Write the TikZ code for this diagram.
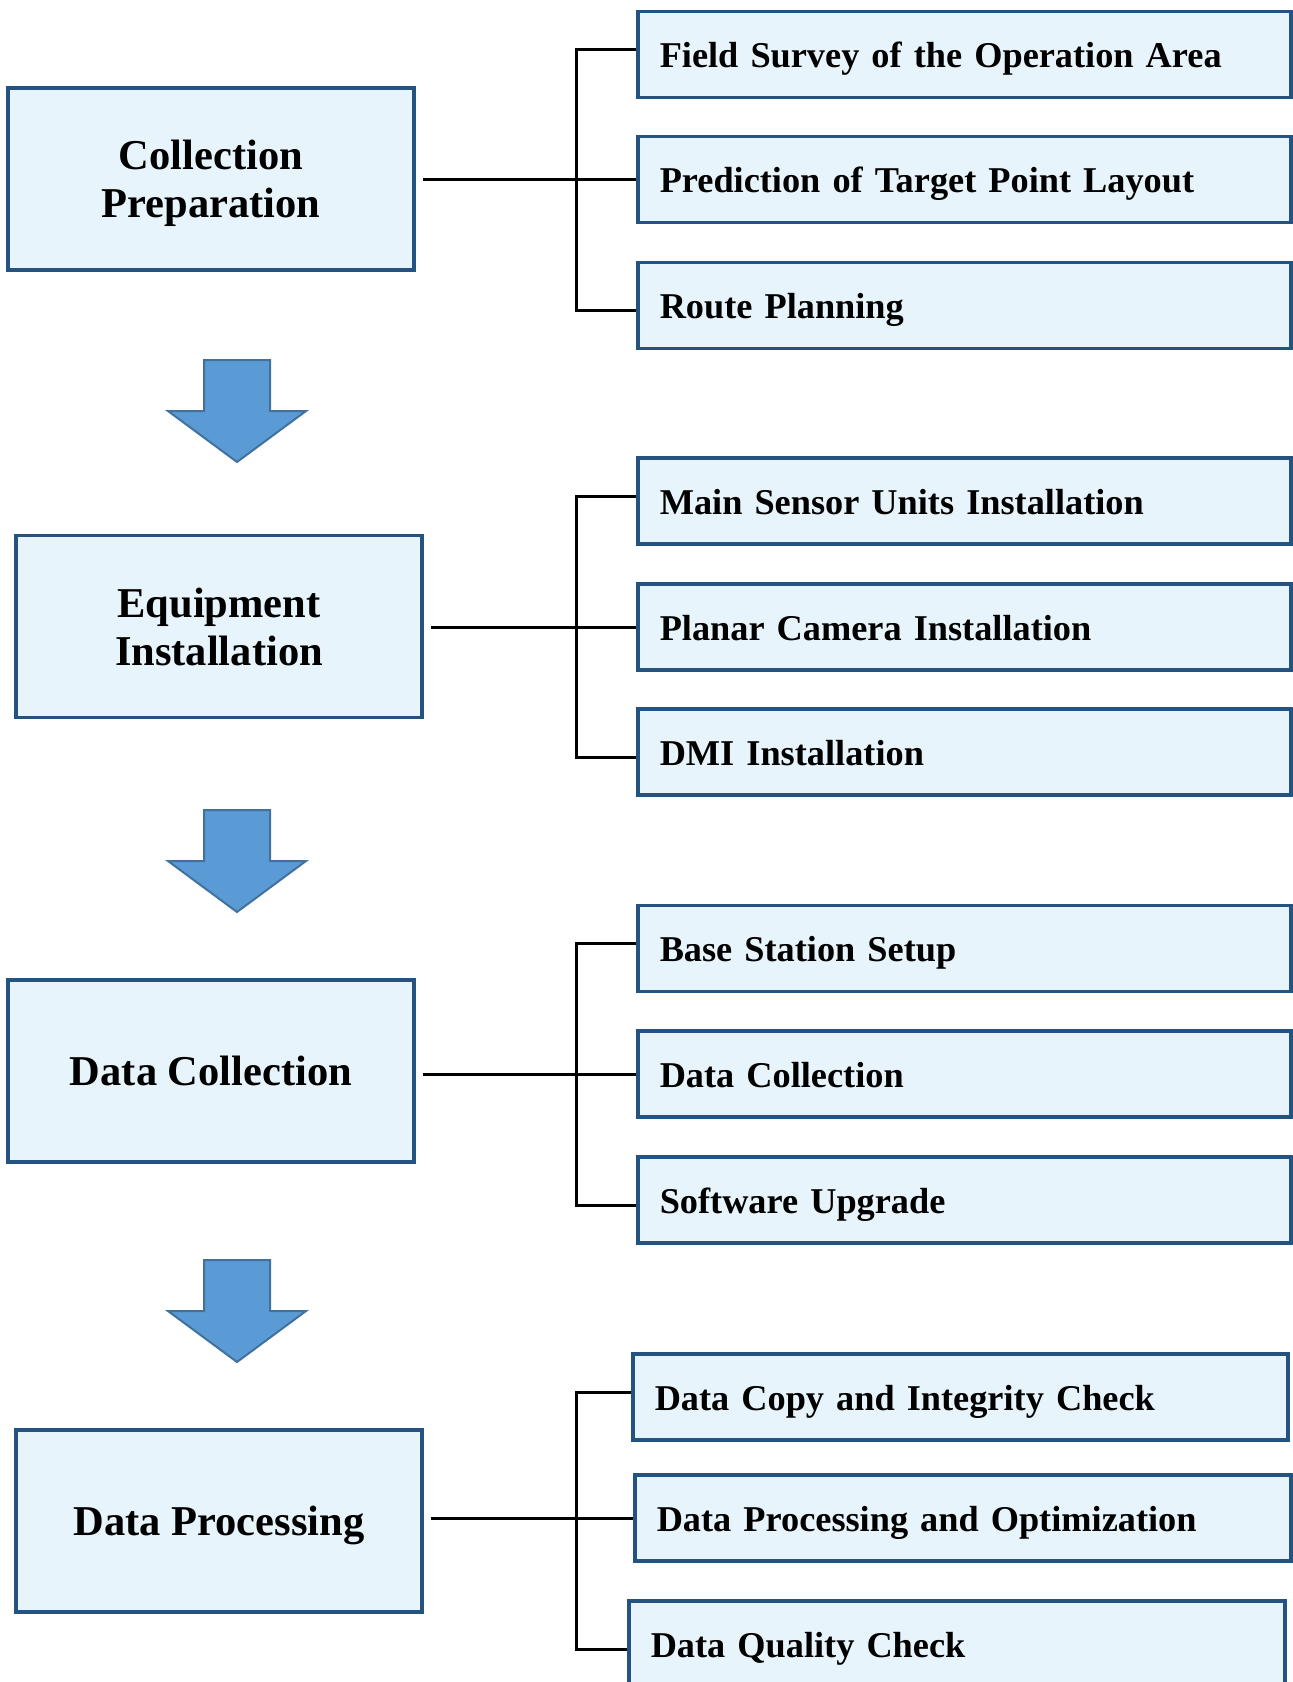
\documentclass[tikz,border=0pt]{standalone}
\usepackage{fontspec}
\setmainfont{Liberation Serif}
\usepackage{xcolor}
\usetikzlibrary{positioning}
\definecolor{boxline}{HTML}{255381}
\definecolor{boxfill}{HTML}{E8F4FB}
\definecolor{arrfill}{HTML}{5B9BD5}
\definecolor{arrline}{HTML}{41719C}

\begin{document}
\begin{tikzpicture}[
    x=1pt, y=-1pt,
    stage/.style={draw=boxline, fill=boxfill, line width=3.5pt, minimum width=406pt, minimum height=182pt, align=center, text height=28.5pt, text depth=0pt, font=\fontsize{42.5}{48}\selectfont\bfseries},
    twoline/.style={text height=77pt},
    task/.style={draw=boxline, fill=boxfill, line width=3.5pt, anchor=west, minimum height=86pt, text width=609pt, inner xsep=22pt, align=left, text height=26pt, text depth=0pt, font=\fontsize{36.3}{42}\selectfont\bfseries},
    link/.style={draw=black, line width=3pt},
    bigarrow/.style={fill=arrfill, draw=arrline, line width=2pt, line join=miter}
]
\useasboundingbox (0,0) rectangle (1293,1682);

% stages
\node[stage, twoline] (s1) at (211,179)  {Collection\\Preparation};
\node[stage, twoline] (s2) at (219,626.5) {Equipment\\Installation};
\node[stage] (s3) at (211,1071) {Data Collection};
\node[stage] (s4) at (219,1521) {Data Processing};

% tasks
\node[task] (t11) at (636,54.5)  {Field Survey of the Operation Area};
\node[task] (t12) at (636,179.5) {Prediction of Target Point Layout};
\node[task] (t13) at (636,305.5) {Route Planning};

\node[task] (t21) at (636,501) {Main Sensor Units Installation};
\node[task] (t22) at (636,627) {Planar Camera Installation};
\node[task] (t23) at (636,752) {DMI Installation};

\node[task] (t31) at (636,948.5) {Base Station Setup};
\node[task] (t32) at (636,1074)  {Data Collection};
\node[task] (t33) at (636,1200)  {Software Upgrade};

\node[task, text width=611pt] (t41) at (631,1397) {Data Copy and Integrity Check};
\node[task, text width=612pt] (t42) at (633,1518) {Data Processing and Optimization};
\node[task, text width=612pt] (t43) at (627,1644) {Data Quality Check};

% brackets
\foreach \i in {1,2,3,4} {
  \coordinate (b\i) at (t\i2.west -| 576,0);
  \draw[link, shorten <=7pt] (s\i.east |- b\i) -- (b\i);
  \draw[link] ([yshift=5pt]t\i1.west) -| (b\i) |- ([yshift=-5pt]t\i3.west);
  \draw[link] (b\i) -- (t\i2.west);
}

% flow arrows
\foreach \y in {360,810,1260}
  \draw[bigarrow] (204,\y) -- (270,\y) -- (270,\y+51) -- (306,\y+51) -- (237,\y+102)
    -- (168,\y+51) -- (204,\y+51) -- cycle;
\end{tikzpicture}
\end{document}
